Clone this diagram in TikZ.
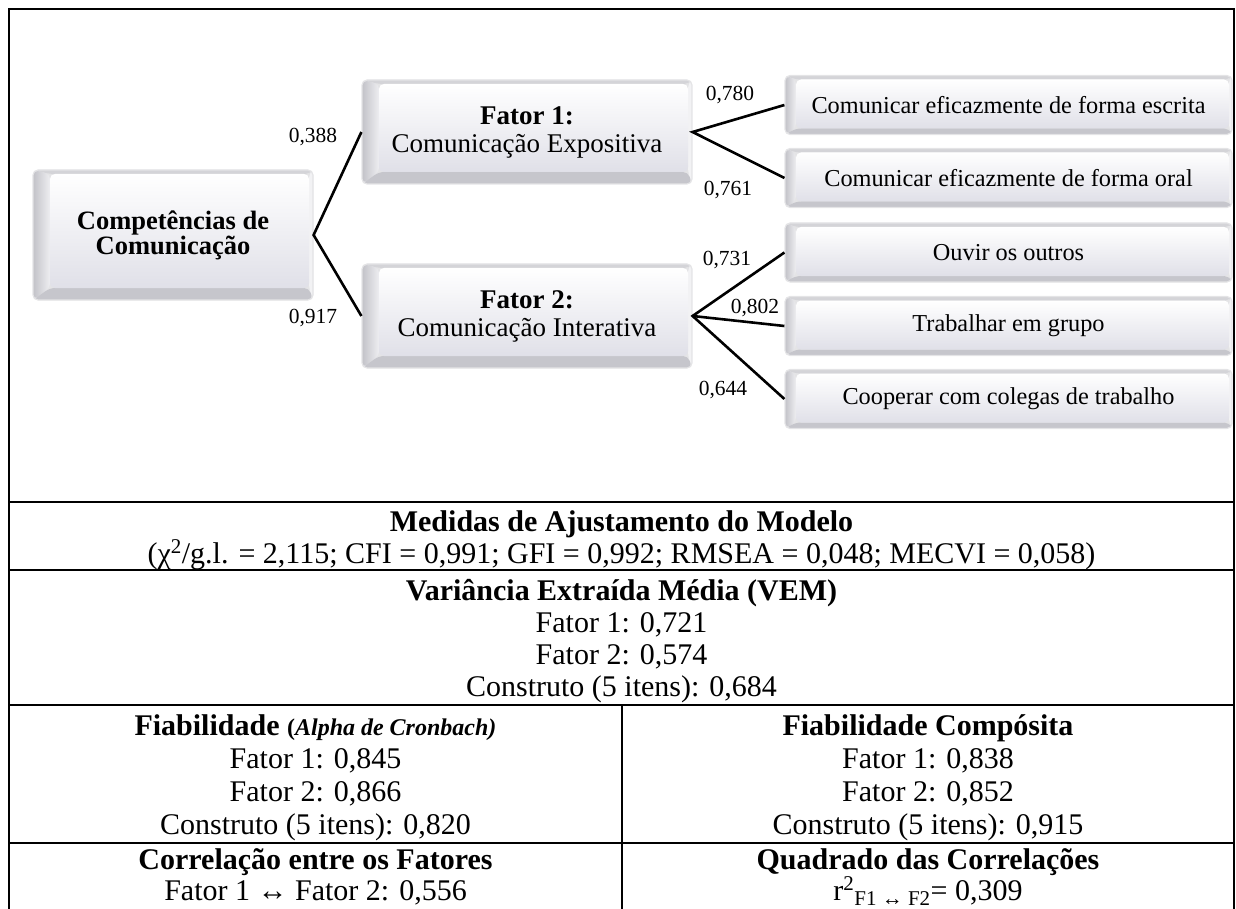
\documentclass[tikz,border=0pt]{standalone}
\usepackage{fontspec}
\setmainfont{Liberation Serif}
\usetikzlibrary{calc}
\definecolor{bvTop}{HTML}{D4D4D8}
\definecolor{bvLeftA}{HTML}{C2C2C8}
\definecolor{bvLeftB}{HTML}{EEEEF1}
\definecolor{bvBot}{HTML}{C6C6CC}
\definecolor{bvRight}{HTML}{F2F2F4}
\definecolor{bvFaceB}{HTML}{E0E0E8}
\definecolor{bvEdge}{HTML}{E4E4E6}
\newcommand\fTab{\fontsize{30}{33}\selectfont}
\newcommand\fSmallB{\fontsize{24}{27}\selectfont}
\newcommand\fItem{\fontsize{24.3}{28}\selectfont}
\newcommand\fLab{\fontsize{21.5}{24}\selectfont}
\newcommand\fComp{\fontsize{26.5}{25}\selectfont\bfseries}
\newcommand\fFat{\fontsize{27}{28}\selectfont}
\newcommand\bevelpic[4]{%
 \fill[bvEdge] (path picture bounding box.south west) rectangle (path picture bounding box.north east);
 \fill[bvTop] (path picture bounding box.north west) -- (path picture bounding box.north east)
   -- ([xshift=-#3pt,yshift=-#2pt]path picture bounding box.north east)
   -- ([xshift=#1pt,yshift=-#2pt]path picture bounding box.north west) -- cycle;
 \fill[bvRight] (path picture bounding box.north east) -- (path picture bounding box.south east)
   -- ([xshift=-#3pt,yshift=#4pt]path picture bounding box.south east)
   -- ([xshift=-#3pt,yshift=-#2pt]path picture bounding box.north east) -- cycle;
 \shade[left color=bvLeftA, right color=bvLeftB] (path picture bounding box.north west)
   -- ([xshift=#1pt,yshift=-#2pt]path picture bounding box.north west)
   -- ([xshift=#1pt,yshift=#4pt]path picture bounding box.south west)
   -- (path picture bounding box.south west) -- cycle;
 \fill[bvBot] (path picture bounding box.south west)
   -- ([xshift=#1pt,yshift=#4pt]path picture bounding box.south west)
   -- ([xshift=-#3pt,yshift=#4pt]path picture bounding box.south east)
   -- (path picture bounding box.south east) -- cycle;
 \shade[top color=white, bottom color=bvFaceB]
   ([xshift=#1pt,yshift=#4pt]path picture bounding box.south west)
   rectangle ([xshift=-#3pt,yshift=-#2pt]path picture bounding box.north east);
}
\tikzset{
 bbox/.style={rectangle, rounded corners=5pt, draw=bvEdge, line width=1.2pt, inner sep=0pt, align=center},
 bigbevel/.style={bbox, path picture={\bevelpic{17}{4}{4}{12}}},
 itembevel/.style={bbox, font=\fItem, minimum width=447pt, minimum height=59pt, path picture={\bevelpic{11}{4}{3}{6}}},
 conn/.style={line width=2.6pt},
 lab/.style={font=\fLab, inner sep=0pt},
 ttext/.style={font=\fTab, anchor=base, inner sep=0pt},
 tbold/.style={font=\fTab\bfseries, anchor=base, inner sep=0pt},
 tabrule/.style={line width=2pt}
}
\begin{document}
\begin{tikzpicture}[x=1pt,y=-1pt]
\useasboundingbox (0,0) rectangle (1236,909);
% boxes
\node[bigbevel, font=\fComp, minimum width=280pt, minimum height=130pt] (comp) at (173,235) {Competências de\\Comunicação};
\node[bigbevel, font=\fFat, minimum width=330pt, minimum height=104pt] (f1) at (527,132) {\textbf{Fator 1:}\\Comunicação Expositiva};
\node[bigbevel, font=\fFat, minimum width=330pt, minimum height=104pt] (f2) at (527,316) {\textbf{Fator 2:}\\Comunicação Interativa};
\node[itembevel] (i1) at (1008.5,105) {Comunicar eficazmente de forma escrita};
\node[itembevel] (i2) at (1008.5,178) {Comunicar eficazmente de forma oral};
\node[itembevel] (i3) at (1008.5,252.5) {Ouvir os outros};
\node[itembevel] (i4) at (1008.5,326) {Trabalhar em grupo};
\node[itembevel] (i5) at (1008.5,399) {Cooperar com colegas de trabalho};
% connectors
\draw[conn] (f1.west) -- (comp.east) -- (f2.west);
\draw[conn] (i1.west) -- (f1.east) -- (i2.west);
\draw[conn] (i3.west) -- (f2.east) -- (i5.west);
\draw[conn] (f2.east) -- (i4.west);
% labels
\node[lab] (l1) at (313,137) {0,388};
\node[lab] (l2) at (313,318) {0,917};
\node[lab] (l3) at (730,95) {0,780};
\node[lab] (l4) at (728,190) {0,761};
\node[lab] (l5) at (727,260) {0,731};
\node[lab] (l6) at (755,308) {0,802};
\node[lab] (l7) at (723,390) {0,644};
% frame and table rules
\draw[tabrule] (9,909) -- (9,9) -- (1234,9) -- (1234,909);
\draw[tabrule] (9,502) -- (1234,502);
\draw[tabrule] (9,570) -- (1234,570);
\draw[tabrule] (9,705) -- (1234,705);
\draw[tabrule] (9,843) -- (1234,843);
\draw[tabrule] (622,705) -- (622,909);
% table texts
\node[tbold] (m1) at (621.5,531) {Medidas de Ajustamento do Modelo};
\node[ttext] (m2) at (621.5,563) {(χ\textsuperscript{2}/g.l. = 2,115; CFI = 0,991; GFI = 0,992; RMSEA = 0,048; MECVI = 0,058)};
\node[tbold] (v1) at (621.5,600) {Variância Extraída Média (VEM)};
\node[ttext] (v2) at (621.5,632) {Fator 1: 0,721};
\node[ttext] (v3) at (621.5,664) {Fator 2: 0,574};
\node[ttext] (v4) at (621.5,696) {Construto (5 itens): 0,684};
\node[tbold] (a1) at (315.5,735) {Fiabilidade {\fSmallB(\textit{Alpha de Cronbach)}}};
\node[ttext] (a2) at (315.5,768) {Fator 1: 0,845};
\node[ttext] (a3) at (315.5,801) {Fator 2: 0,866};
\node[ttext] (a4) at (315.5,834) {Construto (5 itens): 0,820};
\node[tbold] (c1) at (928,735) {Fiabilidade Compósita};
\node[ttext] (c2) at (928,768) {Fator 1: 0,838};
\node[ttext] (c3) at (928,801) {Fator 2: 0,852};
\node[ttext] (c4) at (928,834) {Construto (5 itens): 0,915};
\node[tbold] (r1) at (315.5,869) {Correlação entre os Fatores};
\node[ttext] (r2) at (315.5,900) {Fator 1 ↔ Fator 2: 0,556};
\node[tbold] (q1) at (928,869) {Quadrado das Correlações};
\node[ttext] (q2) at (928,900) {r\textsuperscript{2}\textsubscript{F1 ↔ F2}= 0,309};
\end{tikzpicture}
\end{document}
